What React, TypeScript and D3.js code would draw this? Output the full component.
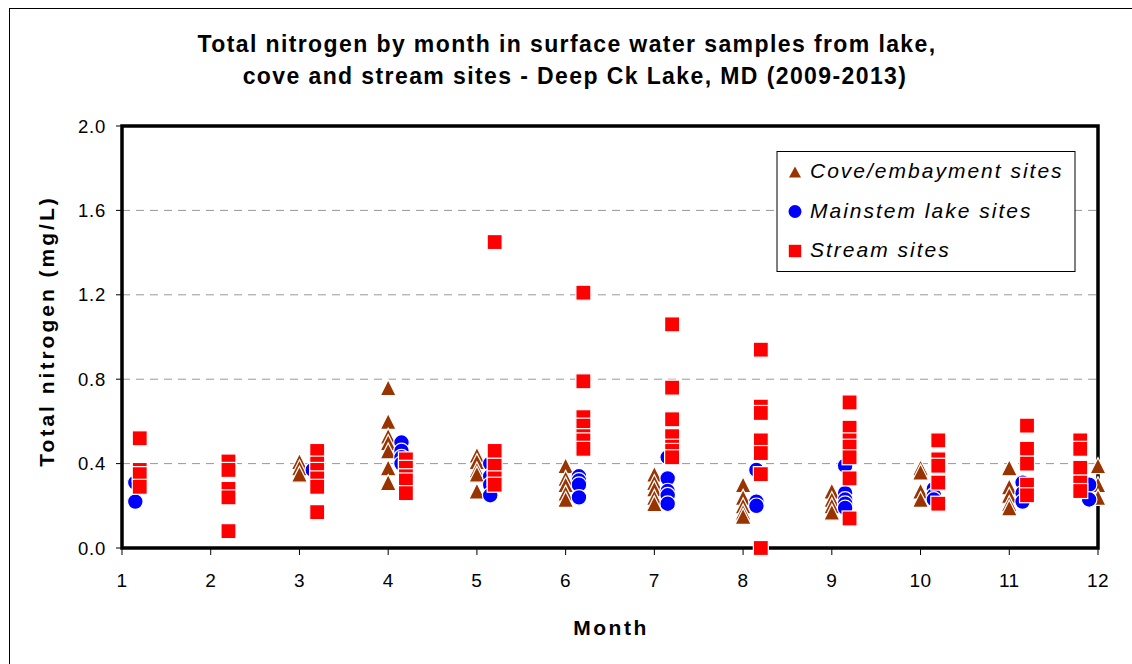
import React from "react";
import * as d3 from "d3";

// Total nitrogen (mg/L) by month, one inner array per month (Jan..Dec)
const months = [1, 2, 3, 4, 5, 6, 7, 8, 9, 10, 11, 12];

const coveTN: number[][] = [
  [],
  [],
  [0.41, 0.38, 0.35],
  [0.76, 0.6, 0.53, 0.5, 0.46, 0.38, 0.31],
  [0.44, 0.41, 0.37, 0.35, 0.27],
  [0.39, 0.33, 0.3, 0.26, 0.23],
  [0.35, 0.31, 0.28, 0.24, 0.21],
  [0.3, 0.24, 0.2, 0.17, 0.15],
  [0.27, 0.23, 0.2, 0.17],
  [0.38, 0.36, 0.27, 0.23],
  [0.38, 0.29, 0.25, 0.21, 0.19],
  [0.39, 0.3, 0.24],
];

const mainstemTN: number[][] = [
  [0.31, 0.22],
  [],
  [0.37],
  [0.5, 0.46, 0.43, 0.4],
  [0.4, 0.34, 0.3, 0.25],
  [0.34, 0.32, 0.3, 0.24],
  [0.43, 0.33, 0.27, 0.25, 0.21],
  [0.37, 0.22, 0.2],
  [0.39, 0.26, 0.23, 0.21, 0.19],
  [0.28, 0.25, 0.23],
  [0.31, 0.26, 0.22],
  [0.3, 0.23],
];

const streamTN: number[][] = [
  [0.52, 0.37, 0.35, 0.29],
  [0.41, 0.37, 0.28, 0.24, 0.08],
  [0.46, 0.4, 0.37, 0.33, 0.29, 0.17],
  [0.42, 0.38, 0.34, 0.32, 0.26],
  [1.45, 0.46, 0.39, 0.33, 0.3],
  [1.21, 0.79, 0.62, 0.58, 0.53, 0.51, 0.47],
  [1.06, 0.76, 0.61, 0.53, 0.48, 0.46, 0.43],
  [0.94, 0.67, 0.64, 0.51, 0.45, 0.35, 0.0],
  [0.69, 0.57, 0.51, 0.48, 0.43, 0.33, 0.14],
  [0.51, 0.42, 0.39, 0.31, 0.21],
  [0.58, 0.47, 0.4, 0.3, 0.25],
  [0.51, 0.47, 0.38, 0.31, 0.27],
];

const yTicks = [0, 0.4, 0.8, 1.2, 1.6, 2.0];
const gridTicks = [0.4, 0.8, 1.2, 1.6];

const seriesNames = ["Cove/embayment sites", "Mainstem lake sites", "Stream sites"];

const W = 1132;
const H = 664;
const plot = { left: 122, top: 126, right: 1098, bottom: 548 };

const x = d3.scaleLinear().domain([1, 12]).range([plot.left, plot.right]);
const y = d3.scaleLinear().domain([0, 2]).range([plot.bottom, plot.top]);

const BROWN = "#993300";
const BLUE = "#0000FF";
const RED = "#FF0000";

// horizontal nudge so the three site groups sit side by side within a month
function nudge(series: number, month: number): number {
  if (series === 0) return 0;
  if (month === 12) return series === 1 ? -0.1 : -0.2;
  return series === 1 ? 0.15 : 0.2;
}

function triangle(w: number, h: number): string {
  const p = d3.path();
  p.moveTo(0, -h / 2);
  p.lineTo(w / 2, h / 2);
  p.lineTo(-w / 2, h / 2);
  p.closePath();
  return p.toString();
}

function Marker({ kind, cx, cy, legend }: { kind: number; cx: number; cy: number; legend?: boolean }) {
  const stroke = legend ? "none" : "#ffffff";
  const sw = legend ? 0 : 1.2;
  if (kind === 0) {
    return (
      <path
        d={legend ? triangle(12, 11) : triangle(16, 16)}
        transform={`translate(${cx},${cy})`}
        fill={BROWN}
        stroke={stroke}
        strokeWidth={sw}
      />
    );
  }
  if (kind === 1) {
    return <circle cx={cx} cy={cy} r={legend ? 6.5 : 7.8} fill={BLUE} stroke={stroke} strokeWidth={sw} />;
  }
  const half = legend ? 6.2 : 7.5;
  return (
    <rect
      x={cx - half}
      y={cy - half}
      width={half * 2}
      height={half * 2}
      fill={RED}
      stroke={stroke}
      strokeWidth={sw}
    />
  );
}

export default function App() {
  const allSeries = [coveTN, mainstemTN, streamTN];
  const font = "'Liberation Sans', Arial, sans-serif";

  return (
    <svg
      width={W}
      height={H}
      viewBox={`0 0 ${W} ${H}`}
      style={{ position: "absolute", left: 0, top: 0, background: "#fff", fontFamily: font }}
    >
      {/* chart area border */}
      <rect x={9.5} y={8.5} width={W + 10} height={H + 10} fill="none" stroke="#000" strokeWidth={1} />

      {/* title */}
      <text x={567} y={52} textAnchor="middle" fontSize={23} fontWeight="bold" letterSpacing={1.4} fill="#000">
        Total nitrogen by month in surface water samples from lake,
      </text>
      <text x={575} y={84} textAnchor="middle" fontSize={23} fontWeight="bold" letterSpacing={1.4} fill="#000">
        cove and stream sites - Deep Ck Lake, MD (2009-2013)
      </text>

      {/* gridlines */}
      {gridTicks.map((t) => (
        <line
          key={`g${t}`}
          x1={plot.left}
          x2={plot.right}
          y1={y(t)}
          y2={y(t)}
          stroke="#999"
          strokeWidth={1}
          strokeDasharray="8,6"
        />
      ))}

      {/* y ticks and labels */}
      {yTicks.map((t) => (
        <g key={`y${t}`}>
          <line x1={plot.left - 6} x2={plot.left} y1={y(t)} y2={y(t)} stroke="#000" strokeWidth={1} />
          <text x={plot.left - 16} y={y(t) + 6.5} textAnchor="end" fontSize={18.5} letterSpacing={0.8} fill="#000">
            {d3.format(".1f")(t)}
          </text>
        </g>
      ))}

      {/* x ticks and labels */}
      {months.map((m) => (
        <g key={`x${m}`}>
          <line x1={x(m)} x2={x(m)} y1={plot.bottom} y2={plot.bottom + 7} stroke="#000" strokeWidth={1} />
          <text x={x(m)} y={plot.bottom + 39} textAnchor="middle" fontSize={19} letterSpacing={0.5} fill="#000">
            {m}
          </text>
        </g>
      ))}

      {/* plot frame */}
      <rect
        x={plot.left}
        y={plot.top}
        width={plot.right - plot.left}
        height={plot.bottom - plot.top}
        fill="none"
        stroke="#000"
        strokeWidth={3.5}
      />

      {/* data points */}
      {allSeries.map((series, si) => (
        <g key={`s${si}`}>
          {series.map((vals, mi) =>
            vals.map((v, vi) => (
              <Marker
                key={`${si}-${mi}-${vi}`}
                kind={si}
                cx={x(months[mi] + nudge(si, months[mi]))}
                cy={y(v)}
              />
            ))
          )}
        </g>
      ))}

      {/* axis titles */}
      <text
        transform={`translate(54,331) rotate(-90)`}
        textAnchor="middle"
        fontSize={21}
        fontWeight="bold"
        letterSpacing={3}
        fill="#000"
      >
        Total nitrogen (mg/L)
      </text>
      <text x={611} y={635} textAnchor="middle" fontSize={21} fontWeight="bold" letterSpacing={2.5} fill="#000">
        Month
      </text>

      {/* legend */}
      <g>
        <rect x={777} y={151.5} width={298} height={120} fill="#fff" stroke="#000" strokeWidth={1} />
        {seriesNames.map((name, i) => (
          <g key={name}>
            <Marker kind={i} cx={795} cy={172 + i * 39.5} legend />
            <text x={810} y={178 + i * 39.5} fontSize={21} fontStyle="italic" letterSpacing={2} fill="#000">
              {name}
            </text>
          </g>
        ))}
      </g>
    </svg>
  );
}
